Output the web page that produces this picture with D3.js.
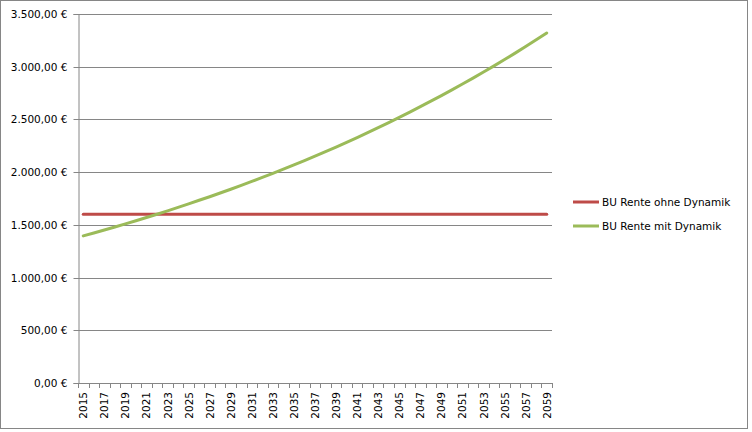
<!DOCTYPE html>
<html>
<head>
<meta charset="utf-8">
<script src="https://cdn.jsdelivr.net/npm/d3@7"></script>
<style>
  html, body { margin: 0; padding: 0; background: #fff; }
  svg { display: block; }
  text { font-family: "DejaVu Sans", Verdana, sans-serif; font-size: 10.5px; fill: #000; }
</style>
</head>
<body>
<svg id="chart" width="752" height="432"></svg>
<script>
const years = ["2015","2016","2017","2018","2019","2020","2021","2022","2023","2024","2025","2026","2027","2028","2029","2030","2031","2032","2033","2034","2035","2036","2037","2038","2039","2040","2041","2042","2043","2044","2045","2046","2047","2048","2049","2050","2051","2052","2053","2054","2055","2056","2057","2058","2059"];
const seriesNames = ["BU Rente ohne Dynamik", "BU Rente mit Dynamik"];
const ohneDynamik = [1600,1600,1600,1600,1600,1600,1600,1600,1600,1600,1600,1600,1600,1600,1600,1600,1600,1600,1600,1600,1600,1600,1600,1600,1600,1600,1600,1600,1600,1600,1600,1600,1600,1600,1600,1600,1600,1600,1600,1600,1600,1600,1600,1600,1600];
const mitDynamik = [1395,1423,1451,1480,1509,1539,1570,1601,1633,1666,1699,1733,1767,1802,1838,1875,1912,1950,1989,2028,2069,2110,2152,2195,2238,2283,2328,2375,2422,2470,2519,2570,2621,2673,2726,2780,2836,2892,2950,3008,3068,3129,3191,3255,3320];
const yTicks = [0,500,1000,1500,2000,2500,3000,3500];
const colors = ["#BE4B48", "#9BBB59"];

(function () {
const svg = d3.select("#chart");
const pLeft = 78, pRight = 552, pTop = 14, pBottom = 383;

// outer border
svg.append("rect").attr("x", 0.5).attr("y", 0.5).attr("width", 747).attr("height", 428)
  .attr("fill", "#fff").attr("stroke", "#868686").attr("stroke-width", 1);

const x = d3.scaleBand().domain(years).range([pLeft, pRight]).paddingInner(0).paddingOuter(0);
const y = d3.scaleLinear().domain([0, 3500]).range([pBottom, pTop]);

// gridlines
svg.append("g").selectAll("line").data(yTicks.filter(d => d > 0)).join("line")
  .attr("x1", pLeft).attr("x2", pRight)
  .attr("y1", d => Math.round(y(d)) + 0.5).attr("y2", d => Math.round(y(d)) + 0.5)
  .attr("stroke", "#868686").attr("stroke-width", 1);

// y axis
const fmt = d => {
  const s = d3.format(",.2f")(d);
  return s.replace(/,/g, "#").replace(".", ",").replace(/#/g, ".") + " €";
};
const yAxis = d3.axisLeft(y).tickValues(yTicks).tickSize(5).tickPadding(6).tickFormat(fmt);
const gy = svg.append("g").attr("transform", `translate(${pLeft + 0.5},0)`).call(yAxis);
gy.select(".domain").attr("stroke", "#868686");
gy.selectAll(".tick line").attr("stroke", "#868686");
gy.selectAll(".tick").attr("transform", d => `translate(0,${Math.round(y(d)) + 0.5})`);
gy.selectAll("text").style("font-family", "'DejaVu Sans', Verdana, sans-serif").style("font-size", "10.5px").attr("fill", "#000");

// x axis baseline and ticks at category boundaries
const gx = svg.append("g");
gx.append("line").attr("x1", pLeft).attr("x2", pRight)
  .attr("y1", pBottom + 0.5).attr("y2", pBottom + 0.5).attr("stroke", "#868686");
const boundaries = years.map(d => x(d)).concat([x(years[years.length - 1]) + x.bandwidth()]);
gx.selectAll("line.tk").data(boundaries).join("line").attr("class", "tk")
  .attr("x1", d => Math.round(d) + 0.5).attr("x2", d => Math.round(d) + 0.5)
  .attr("y1", pBottom).attr("y2", pBottom + 5).attr("stroke", "#868686");
gx.selectAll("text").data(years.filter((d, i) => i % 2 === 0)).join("text")
  .attr("transform", d => `translate(${x(d) + x.bandwidth() / 2 + 4},${pBottom + 9}) rotate(-90)`)
  .attr("text-anchor", "end")
  .text(d => d);

// lines
const line = d3.line().x((d, i) => x(years[i]) + x.bandwidth() / 2).y(d => y(d));
[ohneDynamik, mitDynamik].forEach((s, k) => {
  svg.append("path").datum(s).attr("d", line)
    .attr("fill", "none").attr("stroke", colors[k]).attr("stroke-width", 3)
    .attr("stroke-linejoin", "round").attr("stroke-linecap", "round");
});

// legend
const lg = svg.append("g");
seriesNames.forEach((n, k) => {
  const ly = 202 + k * 24;
  lg.append("line").attr("x1", 573).attr("x2", 599).attr("y1", ly).attr("y2", ly)
    .attr("stroke", colors[k]).attr("stroke-width", 3);
  lg.append("text").attr("x", 602).attr("y", ly + 4).text(n);
});
})();
</script>
</body>
</html>
